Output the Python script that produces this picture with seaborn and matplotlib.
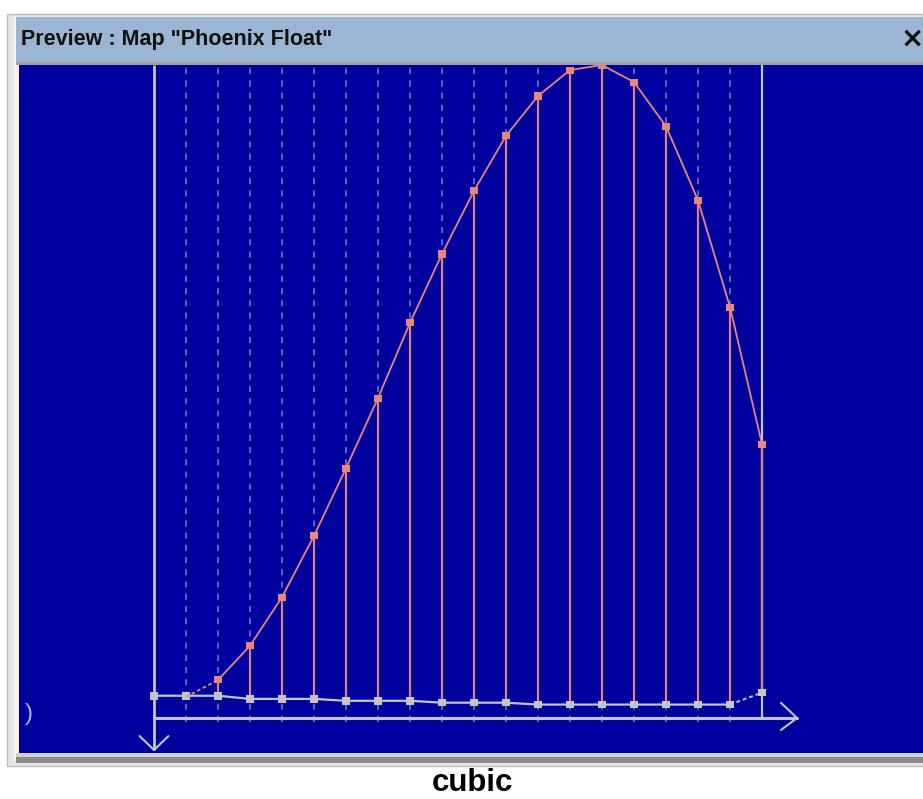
import matplotlib
matplotlib.use("Agg")
import matplotlib.pyplot as plt
from matplotlib.patches import Rectangle
import seaborn as sns
import pandas as pd

sns.set_style("white")
plt.rcParams["font.family"] = ["Liberation Sans", "DejaVu Sans"]

# map points (index along the x axis) and their values
point_idx = list(range(20))
curve_vals = [None, 0.0, 2.7, 8.1, 15.8, 25.5, 36.2, 47.3, 59.2, 70.1, 80.1,
              88.8, 95.1, 99.2, 100.0, 97.3, 90.3, 78.6, 61.7, 40.0]
base_vals = [0.2, 0.2, 0.2, -0.3, -0.3, -0.3, -0.6, -0.6, -0.6, -0.9, -0.9,
             -0.9, -1.2, -1.2, -1.2, -1.2, -1.2, -1.2, -1.2, 0.7]
grid_idx = list(range(1, 19))

title_text = 'Preview : Map "Phoenix Float"'
caption = "cubic"

BLUE = "#00009E"
SALMON = "#E8867C"
STEM = "#DC8080"
GREY = "#C4C4CC"
DASH = "#7580C4"

df = pd.DataFrame({"idx": point_idx, "curve": curve_vals, "base": base_vals})
curve = df.dropna()

W, H = 923, 799
fig = plt.figure(figsize=(W / 100, H / 100), dpi=100)
fig.patch.set_facecolor("white")


def fx(px):
    return px / W


def fy(py):
    return 1 - py / H


def frame_rect(x1, y1, x2, y2, color, **kw):
    fig.patches.append(Rectangle((fx(x1), fy(y2)), fx(x2 - x1), (y2 - y1) / H,
                                 transform=fig.transFigure, facecolor=color,
                                 zorder=-5, **kw))


# window frame
frame_rect(7, 14, W, 766, "#E6E6E6", edgecolor="#BDBDBD", lw=1.0)
frame_rect(14, 17, W, 762, "#F4F4F4", edgecolor="none")
frame_rect(16, 755, W, 763, "#8A8A8A", edgecolor="none")
frame_rect(16, 753, W, 757, "#D0D0D0", edgecolor="none")
frame_rect(16, 17, W, 62, "#9CB5D2", edgecolor="none")
frame_rect(16, 62, W, 65, "#A0A0A8", edgecolor="none")
fig.text(fx(21), fy(40), title_text, fontsize=15.5, fontweight="bold",
         va="center", ha="left", color="#111111")
fig.text(fx(912), fy(39), "\u00d7", fontsize=20, fontweight="bold",
         va="center", ha="center", color="#111111", family="DejaVu Sans")
fig.text(fx(472), fy(783), caption, fontsize=22.5, fontweight="bold",
         va="center", ha="center", color="black")

# plot area
left, right, top, bottom = 19, 923, 65, 753
ax = fig.add_axes([fx(left), fy(bottom), fx(right - left), (bottom - top) / H])
ax.set_zorder(2)
ax.set_facecolor(BLUE)
px_x, px_y, x0, y0 = 32.0, 6.32, 154, 697
ax.set_xlim(-(x0 - left) / px_x, (right - x0) / px_x)
ax.set_ylim(-(bottom - y0) / px_y, (y0 - top) / px_y)
for s in ax.spines.values():
    s.set_visible(False)
ax.set_xticks([])
ax.set_yticks([])

ymin, ymax = ax.get_ylim()
axis_y = -(718 - y0) / px_y
tip_y = -(750 - y0) / px_y

# dashed division lines
ax.vlines(grid_idx, -(722 - y0) / px_y, ymax, colors=DASH, lw=1.1,
          linestyles=(0, (4, 4)), zorder=1)

# axes: vertical with down arrow, horizontal with right arrow, right border
first, last = point_idx[0], point_idx[-1]
ax.plot([first, first], [ymax, tip_y], color=GREY, lw=2, zorder=2,
        solid_capstyle="butt")
ax.plot([first - 0.45, first, first + 0.45], [tip_y + 2.2, tip_y, tip_y + 2.2],
        color=GREY, lw=1.5, zorder=2)
arrow_x = last + (797 - 762) / px_x
ax.plot([first, arrow_x], [axis_y, axis_y], color=GREY, lw=2.2, zorder=2)
ax.plot([arrow_x - 0.5, arrow_x, arrow_x - 0.5],
        [axis_y + 2.4, axis_y, axis_y - 1.9], color=GREY, lw=1.5, zorder=2)
ax.plot([last, last], [ymax, axis_y], color=GREY, lw=1.6, zorder=2)

# stems
stems = curve[curve["idx"] >= 2]
ax.vlines(stems["idx"], stems["base"], stems["curve"], colors=STEM, lw=1.6,
          zorder=3)

# baseline
sns.lineplot(data=df.iloc[:-1], x="idx", y="base", ax=ax, color=GREY, lw=1.6,
             zorder=4)
ax.plot(df["idx"].iloc[-2:], df["base"].iloc[-2:], color=GREY, lw=1.4,
        ls=(0, (2, 1.5)), zorder=4)
sns.scatterplot(data=df, x="idx", y="base", ax=ax, color=GREY, marker="s",
                s=30, edgecolor="none", zorder=5)

# curve
ax.plot(curve["idx"].iloc[:2], curve["curve"].iloc[:2], color=SALMON, lw=1.3,
        ls=(0, (2, 1.5)), zorder=6)
sns.lineplot(data=curve.iloc[1:], x="idx", y="curve", ax=ax, color=SALMON,
             lw=1.3, zorder=6)
sns.scatterplot(data=curve.iloc[1:], x="idx", y="curve", ax=ax, color=SALMON,
                marker="s", s=26, edgecolor="none", zorder=7)

ax.set_xlabel("")
ax.set_ylabel("")
ax.text(-(154 - 29) / px_x, -(714 - y0) / px_y, ")", color="#9ABCEC",
        fontsize=17, ha="center", va="center")

fig.savefig("out.png", dpi=100)
